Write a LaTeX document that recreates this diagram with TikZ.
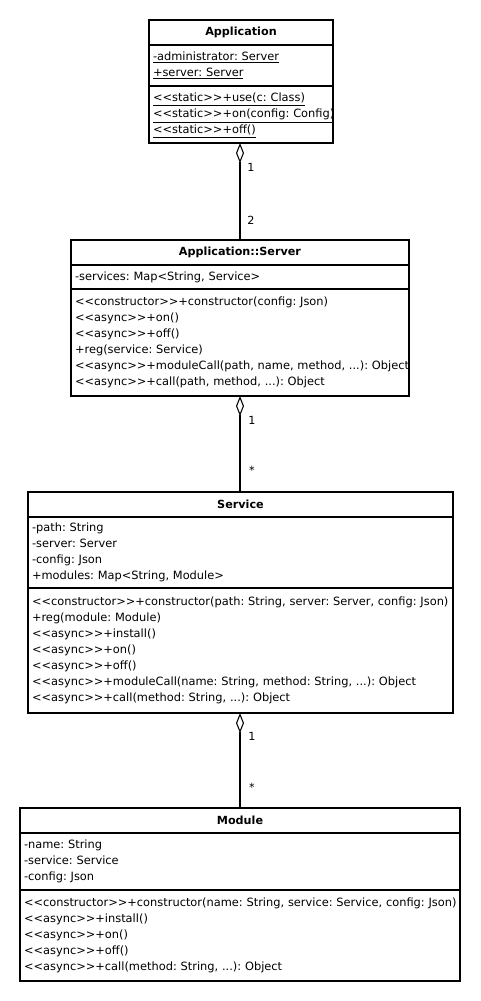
\documentclass[tikz,border=0pt]{standalone}
\usepackage{fontspec}
\setmainfont{DejaVu Sans}
\usetikzlibrary{positioning,arrows.meta}
\frenchspacing
\newcommand{\stereo}[1]{<\kern0pt<#1>\kern0pt>}
\newcommand{\compart}[1]{\begin{tabular}{@{}l@{}}#1\end{tabular}}

\begin{document}
\begin{tikzpicture}[x=0.75pt,y=-0.75pt,
  cls/.style={draw,line width=0.8pt,outer sep=0pt,inner ysep=0pt,anchor=north west},
  title/.style={cls,minimum height=18.75pt,font=\fontsize{8.4}{12}\bfseries\selectfont},
  part/.style={cls,inner xsep=3pt,text width=#1,align=left,font=\fontsize{8.55}{12}\selectfont},
  lbl/.style={font=\fontsize{8.4}{12}\selectfont,inner sep=0pt},
  agg/.style={line width=0.8pt,{Diamond[open,length=15pt,width=6pt]}-}]
  \useasboundingbox (0,0) rectangle (481,1001);

  % Application
  \node[title,minimum width=138pt] (app) at (149,20) {Application};
  \node[part=132pt,minimum height=30.75pt,below=0pt of app] (appattr)
    {\compart{\underline{-administrator: Server}\\\underline{+server: Server}}};
  \node[part=132pt,minimum height=42.75pt,below=0pt of appattr] (appops)
    {\compart{\underline{\stereo{static}+use(c: Class)}\\
     \underline{\stereo{static}+on(config: Config)}\\
     \underline{\stereo{static}+off()}}};

  % Application::Server
  \node[title,minimum width=253.5pt] (srv) at (71,240) {Application::Server};
  \node[part=247.5pt,minimum height=18pt,below=0pt of srv] (srvattr)
    {\compart{-services: Map<String, Service>}};
  \node[part=247.5pt,minimum height=80.25pt,below=0pt of srvattr] (srvops)
    {\compart{\stereo{constructor}+constructor(config: Json)\\
     \stereo{async}+on()\\
     \stereo{async}+off()\\
     +reg(service: Service)\\
     \stereo{async}+moduleCall(path, name, method, ...): Object\\
     \stereo{async}+call(path, method, ...): Object}};

  % Service
  \node[title,minimum width=318.75pt] (svc) at (28,492) {Service};
  \node[part=312.75pt,minimum height=53.25pt,below=0pt of svc] (svcattr)
    {\compart{-path: String\\
     -server: Server\\
     -config: Json\\
     +modules: Map<String, Module>}};
  \node[part=312.75pt,minimum height=93.75pt,below=0pt of svcattr] (svcops)
    {\compart{\stereo{constructor}+constructor(path: String, server: Server, config: Json)\\
     +reg(module: Module)\\
     \stereo{async}+install()\\
     \stereo{async}+on()\\
     \stereo{async}+off()\\
     \stereo{async}+moduleCall(name: String, method: String, ...): Object\\
     \stereo{async}+call(method: String, ...): Object}};

  % Module
  \node[title,minimum width=330pt] (mod) at (20,808) {Module};
  \node[part=324pt,minimum height=42.75pt,below=0pt of mod] (modattr)
    {\compart{-name: String\\
     -service: Service\\
     -config: Json}};
  \node[part=324pt,minimum height=68.25pt,below=0pt of modattr] (modops)
    {\compart{\stereo{constructor}+constructor(name: String, service: Service, config: Json)\\
     \stereo{async}+install()\\
     \stereo{async}+on()\\
     \stereo{async}+off()\\
     \stereo{async}+call(method: String, ...): Object}};

  % aggregations
  \draw[agg] (appops.south -| srv.north) -- (srv.north);
  \draw[agg] (srvops.south) -- (srvops.south |- svc.north);
  \draw[agg] (svcops.south -| mod.north) -- (mod.north);

  % multiplicities
  \node[lbl] (m1a) at (251,167) {1};
  \node[lbl] (m1b) at (251,220) {2};
  \node[lbl] (m2a) at (252,420) {1};
  \node[lbl] (m2b) at (252,470) {*};
  \node[lbl] (m3a) at (252,736) {1};
  \node[lbl] (m3b) at (252,787) {*};
\end{tikzpicture}
\end{document}
